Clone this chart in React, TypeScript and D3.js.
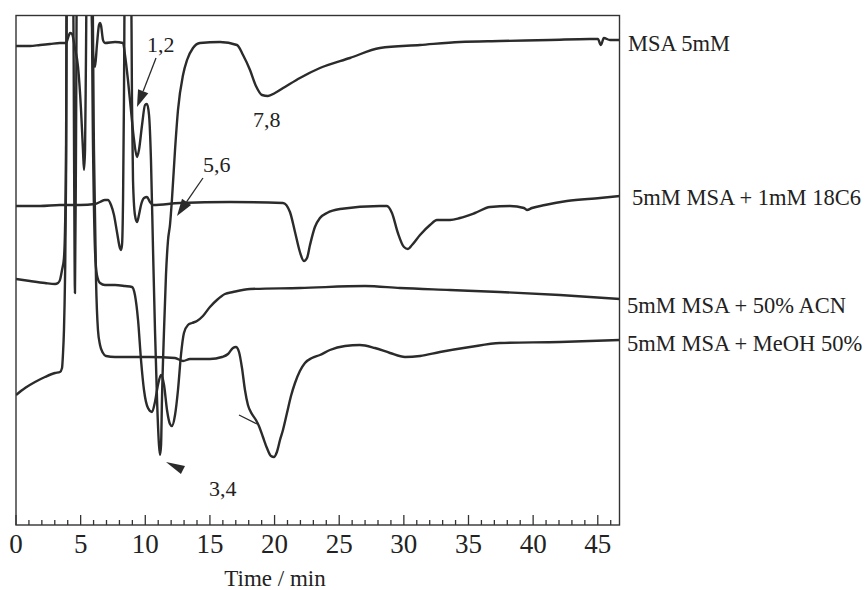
import React from 'react';
import * as d3 from 'd3';

// ---- data (time in min, detector signal in arbitrary units) ----
const msa5mM: [number, number][] = [
  [0, 479], [1.08, 479], [1.86, 480], [2.63, 481], [3.4, 482], [3.87, 482], [4.02, 487], [4.18, 492],
  [4.33, 491], [4.56, 477], [4.8, 458], [5.03, 415], [5.18, 375], [5.26, 355], [5.34, 375], [5.41, 465],
  [5.49, 575], [5.8, 575], [5.88, 505], [5.96, 470], [6.11, 458], [6.26, 480], [6.42, 500], [6.5, 502],
  [6.57, 500], [6.73, 485], [6.88, 482], [7.66, 483], [8.28, 482], [8.43, 470], [8.66, 445], [8.89, 415],
  [9.13, 385], [9.36, 368], [9.51, 375], [9.75, 400], [9.98, 420], [10.13, 421], [10.29, 410], [10.44, 365],
  [10.6, 275], [10.75, 195], [10.91, 125], [11.06, 80], [11.14, 70], [11.22, 80], [11.29, 125], [11.45, 195],
  [11.6, 250], [11.76, 285], [11.91, 300], [12.06, 325], [12.3, 375], [12.53, 415], [12.92, 450], [13.23, 465],
  [13.69, 477], [14.23, 482], [15.78, 483], [17.09, 480], [17.56, 470], [18.1, 455], [18.56, 439], [19.03, 430],
  [19.49, 429], [20.03, 432], [20.8, 438], [21.96, 447], [23.51, 457], [25.83, 467], [28.15, 477], [31.25, 480],
  [34.34, 483], [37.43, 484], [41.3, 485], [44.39, 486], [45.01, 486], [45.24, 480], [45.47, 487], [45.94, 485],
  [46.71, 485],
];

const msaCrown: [number, number][] = [
  [0, 319], [1.86, 319], [3.4, 320], [4.95, 320], [6.11, 321], [6.5, 323], [6.88, 325], [7.11, 325],
  [7.35, 320], [7.58, 310], [7.81, 293], [8.04, 277], [8.12, 275], [8.2, 280], [8.28, 325], [8.35, 425],
  [8.43, 575], [8.89, 575], [8.97, 425], [9.05, 345], [9.2, 310], [9.36, 303], [9.51, 310], [9.67, 320],
  [9.9, 327], [10.13, 328], [10.36, 323], [10.6, 320], [12.68, 322], [16.55, 323], [20.65, 322], [21.19, 313],
  [21.58, 293], [21.96, 273], [22.27, 264], [22.51, 267], [22.74, 280], [23.12, 298], [23.51, 307], [24.05, 312],
  [25.06, 316], [28.15, 319], [28.69, 319], [29.08, 312], [29.54, 292], [30.01, 278], [30.32, 276], [30.63, 280],
  [31.25, 290], [32.02, 300], [32.56, 305], [33.57, 305], [34.34, 307], [35.5, 312], [36.66, 318], [38.21, 319],
  [39.29, 317], [39.52, 315], [39.91, 317], [40.91, 320], [42.61, 324], [45.17, 327], [46.71, 329],
];

const msaACN: [number, number][] = [
  [0, 246], [1.08, 244], [2.24, 242], [3.02, 241], [3.25, 242], [3.4, 245], [3.56, 255], [3.71, 267],
  [3.79, 295], [3.87, 375], [3.94, 575], [4.41, 575], [4.49, 375], [4.56, 232], [4.64, 375], [4.72, 575],
  [5.8, 575], [5.96, 375], [6.11, 275], [6.26, 250], [6.5, 242], [6.88, 240], [7.66, 240], [8.43, 239],
  [8.97, 238], [9.2, 230], [9.44, 205], [9.67, 165], [9.9, 135], [10.21, 117], [10.52, 113], [10.75, 123],
  [10.98, 140], [11.22, 150], [11.45, 140], [11.68, 115], [11.91, 101], [12.06, 99], [12.3, 110], [12.53, 135],
  [12.76, 170], [12.99, 192], [13.3, 200], [13.61, 202], [14.0, 204], [14.46, 209], [15.0, 218], [15.54, 225],
  [16.16, 231], [16.78, 233], [18.1, 236], [21.96, 237], [26.99, 239], [29.7, 237], [33.57, 235], [37.43, 233],
  [42.07, 230], [46.71, 226],
];

const msaMeOH: [number, number][] = [
  [0, 130], [0.7, 137], [1.47, 143], [2.24, 148], [3.02, 152], [3.4, 153], [3.56, 157], [3.63, 170],
  [3.71, 195], [3.79, 245], [3.87, 345], [3.94, 575], [5.88, 575], [6.03, 375], [6.19, 245], [6.34, 195],
  [6.5, 180], [6.73, 172], [6.96, 169], [7.66, 168], [10.36, 168], [12.3, 167], [12.92, 164], [13.46, 166],
  [15.0, 166], [15.93, 168], [16.4, 171], [16.78, 177], [17.01, 178], [17.25, 173], [17.48, 157], [17.71, 135],
  [17.94, 120], [18.25, 111], [18.56, 105], [18.79, 99], [19.1, 88], [19.41, 77], [19.72, 69], [19.95, 68],
  [20.18, 73], [20.42, 85], [20.65, 95], [20.96, 112], [21.27, 129], [21.58, 142], [21.96, 154], [22.35, 162],
  [22.89, 167], [23.51, 170], [24.28, 175], [25.45, 179], [26.6, 180], [27.76, 177], [28.93, 172], [30.09, 168],
  [31.25, 169], [32.79, 173], [35.11, 178], [37.43, 182], [42.07, 183], [46.71, 185],
];

const seriesLabels = ['MSA 5mM', '5mM MSA + 1mM 18C6', '5mM MSA + 50% ACN', '5mM MSA + MeOH 50%'];
const majorTicks = [0, 5, 10, 15, 20, 25, 30, 35, 40, 45];
const minorTicks = d3.range(0, 47, 1);
const xTitle = 'Time / min';

// peak annotations (time, signal)
const peakLabels: { text: string; t: number; v: number }[] = [
  { text: '1,2', t: 10.13, v: 473 },
  { text: '7,8', t: 18.33, v: 398 },
  { text: '5,6', t: 14.46, v: 353 },
  { text: '3,4', t: 14.93, v: 29 },
];
const arrows: { from: [number, number]; to: [number, number] }[] = [
  { from: [10.83, 467], to: [9.36, 418] },
  { from: [14.46, 347], to: [12.45, 309] },
];
const arrowHead34: [number, number][] = [[11.6, 63], [13.07, 59], [12.76, 51]];
const shoulderMark: [number, number][] = [[17.25, 110], [18.64, 101]];

export default function App() {
  const left = 16, right = 619.5, top = 15.5, bottom = 525;
  const x = d3.scaleLinear().domain([0, 46.68]).range([left, right]);
  const y = d3.scaleLinear().domain([0, 509.5]).range([bottom, top]);
  const line = d3
    .line<[number, number]>()
    .x((d) => x(d[0]))
    .y((d) => y(d[1]))
    .curve(d3.curveMonotoneX);

  const series = [msa5mM, msaCrown, msaACN, msaMeOH];
  const font = '"Liberation Serif", "Times New Roman", serif';
  const ink = '#2b2b2b';

  const labelPos = [
    { x: 628, y: 51 },
    { x: 632, y: 205 },
    { x: 627, y: 313 },
    { x: 627, y: 351 },
  ];

  const arrowPath = (a: { from: [number, number]; to: [number, number] }) => {
    const x0 = x(a.from[0]), y0 = y(a.from[1]);
    const x1 = x(a.to[0]), y1 = y(a.to[1]);
    const dx = x1 - x0, dy = y1 - y0;
    const len = Math.hypot(dx, dy);
    const ux = dx / len, uy = dy / len;
    const hl = 17, hw = 5.5;
    const bx = x1 - ux * hl, by = y1 - uy * hl;
    return {
      shaft: `M${x0},${y0}L${bx},${by}`,
      head: `M${x1},${y1}L${bx - uy * hw},${by + ux * hw}L${bx + uy * hw},${by - ux * hw}Z`,
    };
  };

  return (
    <svg
      width={867}
      height={590}
      style={{ position: 'absolute', left: 0, top: 0, background: '#fff' }}
      fontFamily={font}
    >
      <defs>
        <clipPath id="plotclip">
          <rect x={left} y={top} width={right - left} height={bottom - top} />
        </clipPath>
      </defs>
      <rect x={0} y={0} width={867} height={590} fill="#fff" />
      <g clipPath="url(#plotclip)">
        {series.map((s, i) => (
          <path key={i} d={line(s) || ''} fill="none" stroke={ink} strokeWidth={2.4} strokeLinejoin="round" />
        ))}
      </g>
      {/* frame */}
      <rect x={left} y={top} width={right - left} height={bottom - top} fill="none" stroke="#333" strokeWidth={1.4} />
      {/* ticks */}
      {minorTicks.map((t) => (
        <line key={'m' + t} x1={x(t)} x2={x(t)} y1={bottom} y2={bottom - (t % 5 === 0 ? 10 : 5)} stroke="#333" strokeWidth={1.3} />
      ))}
      {majorTicks.map((t) => (
        <text key={'l' + t} x={x(t)} y={553} textAnchor="middle" fontSize={27} fill="#222">
          {t}
        </text>
      ))}
      <text x={275} y={586} textAnchor="middle" fontSize={23} fill="#222">
        {xTitle}
      </text>
      {seriesLabels.map((s, i) => (
        <text key={s} x={labelPos[i].x} y={labelPos[i].y} fontSize={22.5} fill="#222">
          {s}
        </text>
      ))}
      {peakLabels.map((p) => (
        <text key={p.text} x={x(p.t)} y={y(p.v)} fontSize={22} fill="#222">
          {p.text}
        </text>
      ))}
      {arrows.map((a, i) => {
        const p = arrowPath(a);
        return (
          <g key={i}>
            <path d={p.shaft} stroke={ink} strokeWidth={1.3} fill="none" />
            <path d={p.head} fill={ink} />
          </g>
        );
      })}
      <path d={`M${arrowHead34.map((d) => `${x(d[0])},${y(d[1])}`).join('L')}Z`} fill={ink} />
      <line
        x1={x(shoulderMark[0][0])}
        y1={y(shoulderMark[0][1])}
        x2={x(shoulderMark[1][0])}
        y2={y(shoulderMark[1][1])}
        stroke={ink}
        strokeWidth={1.3}
      />
    </svg>
  );
}
